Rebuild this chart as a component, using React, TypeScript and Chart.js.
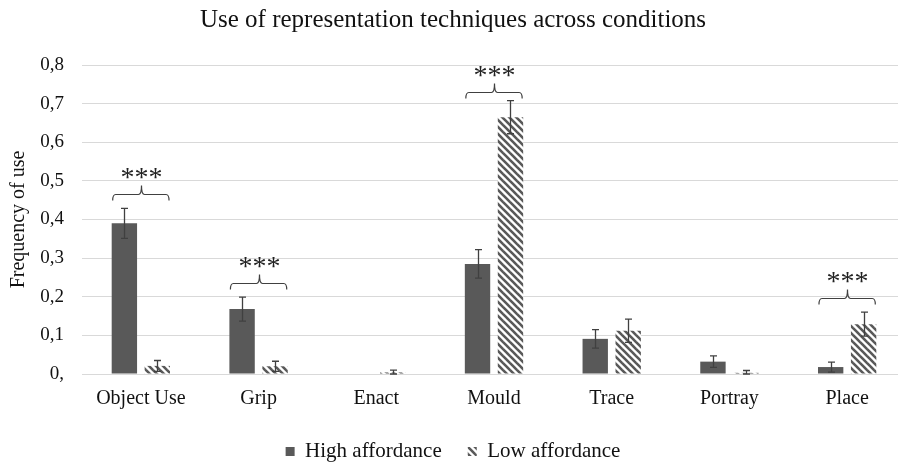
import React, { useEffect, useRef } from "react";
import { Chart, registerables } from "chart.js";

Chart.register(...registerables);

const categories = ["Object Use", "Grip", "Enact", "Mould", "Trace", "Portray", "Place"];
const highAffordance = [0.39, 0.168, 0, 0.285, 0.091, 0.032, 0.018];
const highError = [0.039, 0.031, 0, 0.037, 0.024, 0.015, 0.013];
const lowAffordance = [0.021, 0.02, 0.004, 0.665, 0.112, 0.003, 0.129];
const lowError = [0.014, 0.013, 0.006, 0.043, 0.03, 0.006, 0.031];
const sigLevel: (number | null)[] = [0.467, 0.235, null, 0.73, null, null, 0.196];
const sigLabel = "***";
const yTicks = [0, 0.1, 0.2, 0.3, 0.4, 0.5, 0.6, 0.7, 0.8];

const FONT = "'Liberation Serif', 'Times New Roman', serif";
const DARK = "#595959";
const LINE = "#404040";

function makeHatch(): CanvasPattern | string {
  const p = 7;
  const c = document.createElement("canvas");
  c.width = p;
  c.height = p;
  const ctx = c.getContext("2d");
  if (!ctx) return DARK;
  ctx.fillStyle = "#ffffff";
  ctx.fillRect(0, 0, p, p);
  ctx.strokeStyle = DARK;
  ctx.lineWidth = 2.6;
  ctx.lineCap = "square";
  for (const k of [-p, 0, p]) {
    ctx.beginPath();
    ctx.moveTo(k, 0);
    ctx.lineTo(k + p, p);
    ctx.stroke();
  }
  const pat = ctx.createPattern(c, "repeat");
  return pat || DARK;
}

const overlayPlugin = {
  id: "overlay",
  afterDatasetsDraw(chart: any) {
    const ctx = chart.ctx;
    const yScale = chart.scales.y;
    const errs = [highError, lowError];
    const vals = [highAffordance, lowAffordance];
    ctx.save();
    ctx.strokeStyle = LINE;
    ctx.lineWidth = 1.3;
    for (let d = 0; d < 2; d++) {
      const meta = chart.getDatasetMeta(d);
      meta.data.forEach((bar: any, i: number) => {
        const e = errs[d][i];
        if (!e) return;
        const x = Math.round(bar.x) + 0.5;
        const yTop = yScale.getPixelForValue(vals[d][i] + e);
        const yBot = yScale.getPixelForValue(Math.max(0, vals[d][i] - e));
        const cap = 3.5;
        ctx.beginPath();
        ctx.moveTo(x, yTop);
        ctx.lineTo(x, yBot);
        ctx.moveTo(x - cap, yTop);
        ctx.lineTo(x + cap, yTop);
        ctx.moveTo(x - cap, yBot);
        ctx.lineTo(x + cap, yBot);
        ctx.stroke();
      });
    }
    // significance brackets
    const m0 = chart.getDatasetMeta(0);
    const m1 = chart.getDatasetMeta(1);
    ctx.lineWidth = 1.2;
    ctx.fillStyle = "#222222";
    ctx.font = `28px ${FONT}`;
    ctx.textAlign = "center";
    ctx.textBaseline = "alphabetic";
    sigLevel.forEach((lvl, i) => {
      if (lvl == null) return;
      const b0 = m0.data[i];
      const b1 = m1.data[i];
      const x0 = b0.x - b0.width / 2 + 1;
      const x1 = b1.x + b1.width / 2 - 1;
      const y = Math.round(yScale.getPixelForValue(lvl)) + 0.5;
      const xc = Math.round((x0 + x1) / 2) + 0.5;
      const r = 3;
      ctx.beginPath();
      ctx.moveTo(x0, y + 6);
      ctx.quadraticCurveTo(x0, y, x0 + r, y);
      ctx.lineTo(xc - r, y);
      ctx.quadraticCurveTo(xc, y, xc, y - 9);
      ctx.quadraticCurveTo(xc, y, xc + r, y);
      ctx.lineTo(x1 - r, y);
      ctx.quadraticCurveTo(x1, y, x1, y + 6);
      ctx.stroke();
      ctx.fillText(sigLabel, xc, y - 9);
    });
    ctx.restore();
  },
};

export default function App() {
  const ref = useRef<HTMLCanvasElement | null>(null);
  useEffect(() => {
    if (!ref.current) return;
    const hatch = makeHatch();
    const chart = new Chart(ref.current, {
      type: "bar",
      data: {
        labels: categories,
        datasets: [
          {
            label: "High affordance",
            data: highAffordance,
            backgroundColor: DARK,
            borderWidth: 0,
            categoryPercentage: 0.56,
            barPercentage: 0.77,
          },
          {
            label: "Low affordance",
            data: lowAffordance,
            backgroundColor: hatch as any,
            borderWidth: 0,
            categoryPercentage: 0.56,
            barPercentage: 0.77,
          },
        ],
      },
      options: {
        animation: false,
        responsive: true,
        maintainAspectRatio: false,
        layout: { padding: { left: 0, right: 0, top: 5, bottom: -10 } },
        plugins: {
          title: {
            display: true,
            text: "Use of representation techniques across conditions",
            color: "#111111",
            font: { family: FONT, size: 25, weight: "normal" },
            padding: { top: 0, bottom: 30 },
          },
          legend: {
            position: "bottom",
            labels: {
              color: "#111111",
              font: { family: FONT, size: 21 },
              boxWidth: 9,
              boxHeight: 9,
              padding: 26,
            },
          },
          tooltip: { enabled: false },
        },
        scales: {
          x: {
            grid: { display: false },
            border: { display: true, color: "#d9d9d9" },
            ticks: { color: "#111111", font: { family: FONT, size: 20 }, padding: 5 },
            afterFit: (scale: any) => {
              scale.height = 41;
            },
          },
          y: {
            min: 0,
            max: 0.8,
            afterBuildTicks: (scale: any) => {
              scale.ticks = yTicks.map((v) => ({ value: v }));
            },
            afterFit: (scale: any) => {
              scale.width = 82;
            },
            grid: { color: "#d9d9d9", drawTicks: false },
            border: { display: false },
            ticks: {
              color: "#111111",
              font: { family: FONT, size: 19 },
              padding: 18,
              callback: (v: any) => {
                const n = Number(v);
                return n === 0 ? "0," : n.toFixed(1).replace(".", ",");
              },
            },
            title: {
              display: true,
              text: "Frequency of use",
              color: "#111111",
              font: { family: FONT, size: 20 },
              padding: { top: 7, bottom: 0 },
            },
          },
        },
      },
      plugins: [overlayPlugin],
    });
    return () => chart.destroy();
  }, []);
  return (
    <div style={{ position: "absolute", left: 0, top: 0, width: 898, height: 462, overflow: "hidden", background: "#fff" }}>
      <div style={{ position: "relative", width: 906, height: 462 }}>
        <canvas ref={ref} />
      </div>
    </div>
  );
}
